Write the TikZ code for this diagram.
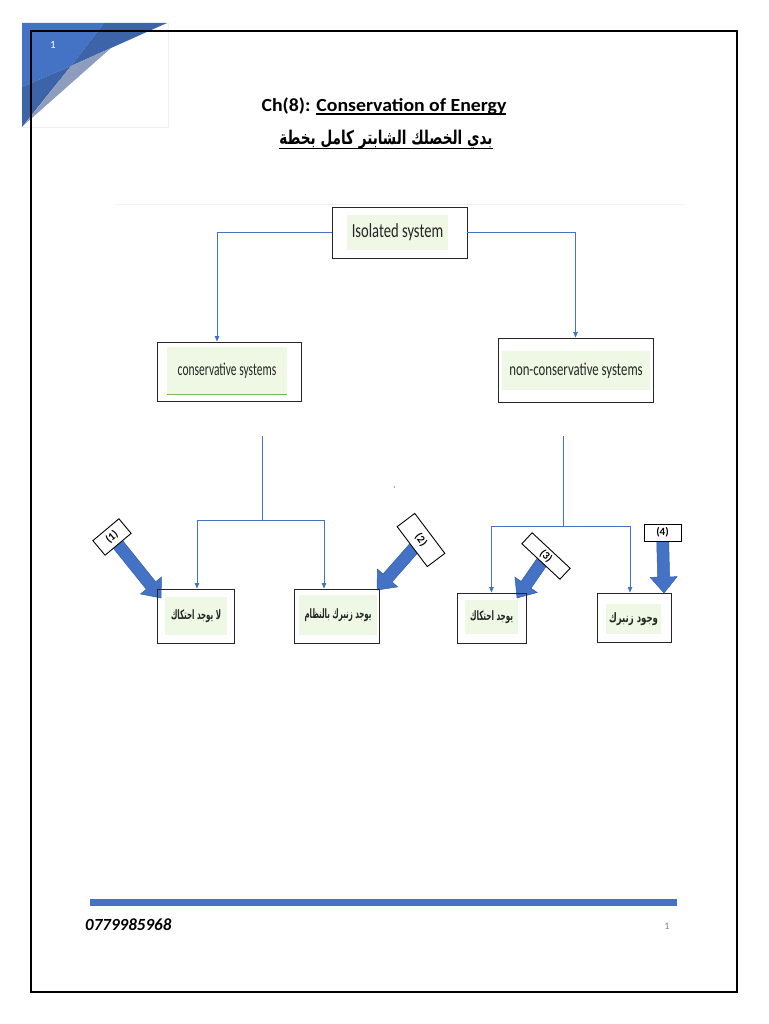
\documentclass[tikz,border=0pt]{standalone}
\usepackage{fontspec}
\usepackage{graphicx}
\setmainfont{Carlito}
\newfontfamily\arabicfont[Script=Arabic]{DejaVu Sans}
\TeXXeTstate=1
\usetikzlibrary{arrows.meta,calc,backgrounds}
\definecolor{wblue}{HTML}{4472C4}
\definecolor{dblue}{HTML}{3D63A9}
\definecolor{gblue}{HTML}{8E9DBD}
\definecolor{fatedge}{HTML}{365EA8}
\definecolor{lgreen}{HTML}{EEF8E4}
\definecolor{dgreen}{HTML}{7DB55A}
\newcommand\myul[2]{\setbox0=\hbox{#2}\rlap{\rule[-#1]{\wd0}{1.3pt}}\box0}
\newcommand\artxt[3]{\resizebox*{#1}{#2}{\arabicfont\bfseries #3}}
\newcommand\fatarrow[2]{%
  \filldraw[fill=wblue, draw=fatedge, line width=0.5pt] let \p1=(#1), \p2=(#2),
    \n1={atan2(\y2-\y1,\x2-\x1)}, \p3=($(\p2)!16pt!(\p1)$) in
    ($(\p1)+(\n1+90:6pt)$) -- ($(\p3)+(\n1+90:6pt)$) -- ($(\p3)+(\n1+90:13.5pt)$) --
    (\p2) -- ($(\p3)+(\n1-90:13.5pt)$) -- ($(\p3)+(\n1-90:6pt)$) --
    ($(\p1)+(\n1-90:6pt)$) -- cycle;}
\begin{document}
\begin{tikzpicture}[x=1pt,y=-1pt,
  box/.style={draw=black!85, line width=0.9pt, inner sep=0pt, fill=none},
  gtext/.style={fill=lgreen, inner sep=0pt, text=black!85},
  conn/.style={draw=wblue, line width=0.7pt, -{Triangle[length=5.5pt,width=4.5pt]}},
  stem/.style={draw=wblue, line width=0.7pt},
  lab/.style={draw=black, line width=0.9pt, fill=white, inner sep=0pt,
    font=\bfseries\fontsize{11}{12}\selectfont}]
\useasboundingbox (0,0) rectangle (768,1024);

% top-left decoration
\draw[gray!12, line width=0.8pt] (22,23) rectangle (168,127);
\fill[wblue] (22,23) -- (104,23) -- (71,66) -- (22,87) -- cycle;
\fill[dblue] (104,23) -- (167,23) -- (111,48) -- (71,66) -- cycle;
\fill[dblue] (22,87) -- (71,66) -- (22,127) -- cycle;
\fill[gblue] (71,66) -- (111,48) -- (24,125) -- cycle;
\node[text=white, font=\fontsize{11}{12}\selectfont] (pgnum) at (53,45) {1};

% page border
\draw[line width=2pt] (31,31.5) rectangle (737,992);

% title
\node[anchor=base, inner sep=0pt, font=\bfseries\fontsize{18.5}{22}\selectfont] (title) at (384,112)
  {\scalebox{1.07}[1]{Ch(8): \myul{2.8pt}{Conservation of Energy}}};
\node[anchor=base, inner sep=0pt] (subtitle) at (386,145)
  {\resizebox*{213pt}{19pt}{\arabicfont\bfseries\fontsize{15}{18}\selectfont\myul{3.5pt}{\beginR بدي الخصلك الشابتر كامل بخطة\endR}}};

% faint rule
\draw[gray!10, line width=0.6pt] (115,204) -- (685,204);

% boxes
\node[box, minimum width=135, minimum height=51] (iso) at (399.5,232.5) {};
\node[gtext, minimum width=101, minimum height=35, font=\fontsize{20}{22}\selectfont] (isot) at (397.5,232.5)
  {\scalebox{0.73}[1]{Isolated system}};

\node[box, minimum width=144, minimum height=59] (cons) at (229,371.5) {};
\node[gtext, minimum width=120, minimum height=47, font=\fontsize{18}{20}\selectfont] (const) at (227,370.5)
  {\scalebox{0.64}[1]{conservative systems}};
\draw[dgreen, line width=1pt] (const.south west) -- (const.south east);

\node[box, minimum width=155, minimum height=64] (non) at (575.5,370) {};
\node[gtext, minimum width=148, minimum height=39, font=\fontsize{18}{20}\selectfont] (nont) at (576,370.5)
  {\scalebox{0.71}[1]{non-conservative systems}};

\node[box, minimum width=77, minimum height=54] (b1) at (195.5,616) {};
\node[gtext, minimum width=62, minimum height=38] (b1t) at (196,616)
  {\artxt{50pt}{13pt}{\beginR لا يوجد احتكاك\endR}};

\node[box, minimum width=85, minimum height=54] (b2) at (336.5,616) {};
\node[gtext, minimum width=78, minimum height=40] (b2t) at (338,615)
  {\artxt{67pt}{13pt}{\beginR يوجد زنبرك بالنظام\endR}};

\node[box, minimum width=69, minimum height=50] (b3) at (491.5,618) {};
\node[gtext, minimum width=53, minimum height=34] (b3t) at (491.5,617)
  {\artxt{43pt}{13pt}{\beginR يوجد احتكاك\endR}};

\node[box, minimum width=74, minimum height=49] (b4) at (634,617.5) {};
\node[gtext, minimum width=55, minimum height=30] (b4t) at (633.5,619)
  {\artxt{49pt}{13pt}{\beginR وجود زنبرك\endR}};

% thin connectors
\draw[conn] (iso.west) -| ($(cons.north)+(-12,0)$);
\draw[conn] (iso.east) -| (non.north);
\coordinate (ltop) at (262,436);
\coordinate (ljoin) at (262,520);
\draw[stem] (ltop) -- (ljoin);
\draw[conn] (ljoin) -| ($(b1.north)+(1.5,0)$);
\draw[conn] (ljoin) -| ($(b2.north)+(-12.5,0)$);
\coordinate (rtop) at (563,436);
\coordinate (rjoin) at (563,526);
\draw[stem] (rtop) -- (rjoin);
\draw[conn] (rjoin) -| (b3.north);
\draw[conn] (rjoin) -| ($(b4.north)+(-4,0)$);

% stray dot
\fill[black!70] (394.5,487) circle (0.7);

% numbered labels and fat arrows
\node[lab, rotate=40, minimum width=34, minimum height=19] (lab1) at (112,537) {(1)};
\node[lab, rotate=-53, minimum width=50, minimum height=22] (lab2) at (421,540) {(2)};
\node[lab, rotate=-43, minimum width=52, minimum height=15] (lab3) at (546,556) {(3)};
\node[lab, minimum width=37, minimum height=17] (lab4) at (662.5,532.5) {(4)};
\coordinate (t1) at (161,598);
\coordinate (t2) at (377,590);
\coordinate (t3) at (517,598);
\coordinate (t4) at (664,593);
\begin{scope}[on background layer]
\fatarrow{lab1}{t1}
\fatarrow{lab2}{t2}
\fatarrow{lab3}{t3}
\fatarrow{lab4}{t4}
\end{scope}

% footer
\fill[wblue] (90,899) rectangle (677,906);
\node[anchor=base west, inner sep=0pt, font=\bfseries\itshape\fontsize{17}{20}\selectfont] (phone) at (85,930) {0779985968};
\node[anchor=base, inner sep=0pt, text=gray, font=\fontsize{10}{12}\selectfont] (fnum) at (667,929) {1};
\end{tikzpicture}
\end{document}
